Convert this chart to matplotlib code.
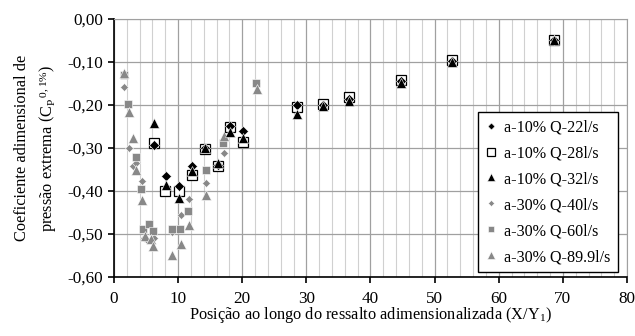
import numpy as np
import matplotlib
matplotlib.use("Agg")
import matplotlib.pyplot as plt
from matplotlib.ticker import MultipleLocator, FuncFormatter

plt.rcParams['font.family'] = ['Liberation Serif', 'DejaVu Serif']
plt.rcParams['mathtext.fontset'] = 'custom'
plt.rcParams['mathtext.rm'] = 'Liberation Serif'
plt.rcParams['mathtext.it'] = 'Liberation Serif:italic'

# a-10% series (black)
x_q22 = [6.2, 8.1, 10.2, 12.1, 14.2, 16.2, 18.1, 20.1, 28.6, 32.6, 36.7, 44.7, 52.7, 68.6]
y_q22 = [-0.292, -0.366, -0.389, -0.343, -0.300, -0.339, -0.250, -0.260, -0.200, -0.200, -0.185, -0.144, -0.097, -0.050]

x_q28 = [6.2, 8.0, 10.1, 12.1, 14.2, 16.2, 18.1, 20.1, 28.6, 32.6, 36.7, 44.7, 52.7, 68.6]
y_q28 = [-0.289, -0.400, -0.400, -0.362, -0.302, -0.343, -0.251, -0.285, -0.204, -0.198, -0.181, -0.143, -0.095, -0.048]

x_q32 = [6.2, 8.1, 10.2, 12.1, 14.2, 16.2, 18.1, 20.1, 28.6, 32.6, 36.7, 44.7, 52.7, 68.6]
y_q32 = [-0.241, -0.385, -0.417, -0.354, -0.301, -0.335, -0.263, -0.276, -0.221, -0.203, -0.190, -0.148, -0.100, -0.050]

# a-30% series (gray)
x_q40 = [1.5, 2.3, 2.9, 3.4, 4.3, 4.7, 5.2, 6.2, 9.1, 10.4, 11.7, 14.4, 17.1, 22.2]
y_q40 = [-0.159, -0.300, -0.341, -0.335, -0.376, -0.510, -0.514, -0.510, -0.496, -0.455, -0.419, -0.382, -0.312, -0.150]

x_q60 = [1.5, 2.2, 3.4, 4.2, 4.5, 5.5, 6.1, 9.0, 10.3, 11.6, 14.3, 17.0, 22.2]
y_q60 = [-0.130, -0.198, -0.320, -0.395, -0.488, -0.476, -0.492, -0.488, -0.488, -0.447, -0.352, -0.289, -0.148]

x_q89 = [1.5, 2.3, 2.9, 3.4, 4.3, 4.9, 5.7, 6.1, 9.1, 10.5, 11.7, 14.4, 17.1, 22.3]
y_q89 = [-0.126, -0.217, -0.277, -0.352, -0.422, -0.505, -0.512, -0.527, -0.550, -0.523, -0.480, -0.409, -0.272, -0.163]

labels = ["a-10% Q-22l/s", "a-10% Q-28l/s", "a-10% Q-32l/s",
          "a-30% Q-40l/s", "a-30% Q-60l/s", "a-30% Q-89.9l/s"]

gray = "#888888"

fig = plt.figure(figsize=(6.35, 3.36), dpi=100)
ax = fig.add_axes([0.1795, 0.1756, 0.8079, 0.7679])

ax.plot(x_q40, y_q40, ls='none', marker='D', ms=4.2, color=gray, mec='white', mew=0.4, label=labels[3])
ax.plot(x_q60, y_q60, ls='none', marker='s', ms=6.3, color=gray, mec='white', mew=0.4, label=labels[4])
ax.plot(x_q89, y_q89, ls='none', marker='^', ms=7, color=gray, mec='white', mew=0.4, label=labels[5])
ax.plot(x_q28, y_q28, ls='none', marker='s', ms=6.8, mfc='white', mec='black', mew=0.9, label=labels[1])
ax.plot(x_q22, y_q22, ls='none', marker='D', ms=4.7, color='black', mec='white', mew=0.4, label=labels[0])
ax.plot(x_q32, y_q32, ls='none', marker='^', ms=7, color='black', mec='white', mew=0.4, label=labels[2])

ax.set_xlim(0, 80)
ax.set_ylim(-0.6, 0.0)
ax.xaxis.set_major_locator(MultipleLocator(10))
ax.xaxis.set_minor_locator(MultipleLocator(2))
ax.yaxis.set_major_locator(MultipleLocator(0.1))
ax.yaxis.set_major_formatter(FuncFormatter(lambda v, p: f"{v:.2f}".replace('.', ',').replace('-0,00', '0,00')))

ax.grid(True, which='minor', axis='x', color='#d0d0d0', lw=0.8)
ax.grid(True, which='major', axis='x', color='#a0a0a0', lw=0.9)
ax.grid(True, which='major', axis='y', color='#a0a0a0', lw=0.9)
ax.set_axisbelow(True)

for s in ['top', 'right']:
    ax.spines[s].set_color('#a0a0a0')
for s in ['left', 'bottom']:
    ax.spines[s].set_color('black')
    ax.spines[s].set_linewidth(1.2)

ax.tick_params(which='major', direction='out', length=4, width=1.2, labelsize=12.3, colors='black')
ax.tick_params(which='minor', length=0)
ax.tick_params(axis='x', pad=6)
ax.tick_params(axis='y', pad=4)

ax.set_xlabel("Posição ao longo do ressalto adimensionalizada (X/Y$_1$)", fontsize=11.8, labelpad=-1)
ax.set_ylabel("Coeficiente adimensional de\npressão extrema $\\left(\\mathrm{C_P}^{\\,0,1\\%}\\right)$",
              fontsize=11.8, labelpad=6, linespacing=1.45)

handles, labs = ax.get_legend_handles_labels()
hmap = dict(zip(labs, handles))
leg = ax.legend([hmap[l] for l in labels], labels, loc='lower right', bbox_to_anchor=(0.982, 0.018),
                fontsize=11.6, frameon=True, fancybox=False, edgecolor='black', framealpha=1,
                handlelength=0.8, handletextpad=0.4, labelspacing=0.62, borderpad=0.45, markerscale=0.75,
                borderaxespad=0)
leg.get_frame().set_linewidth(1.0)

fig.savefig("out.png", dpi=100)
